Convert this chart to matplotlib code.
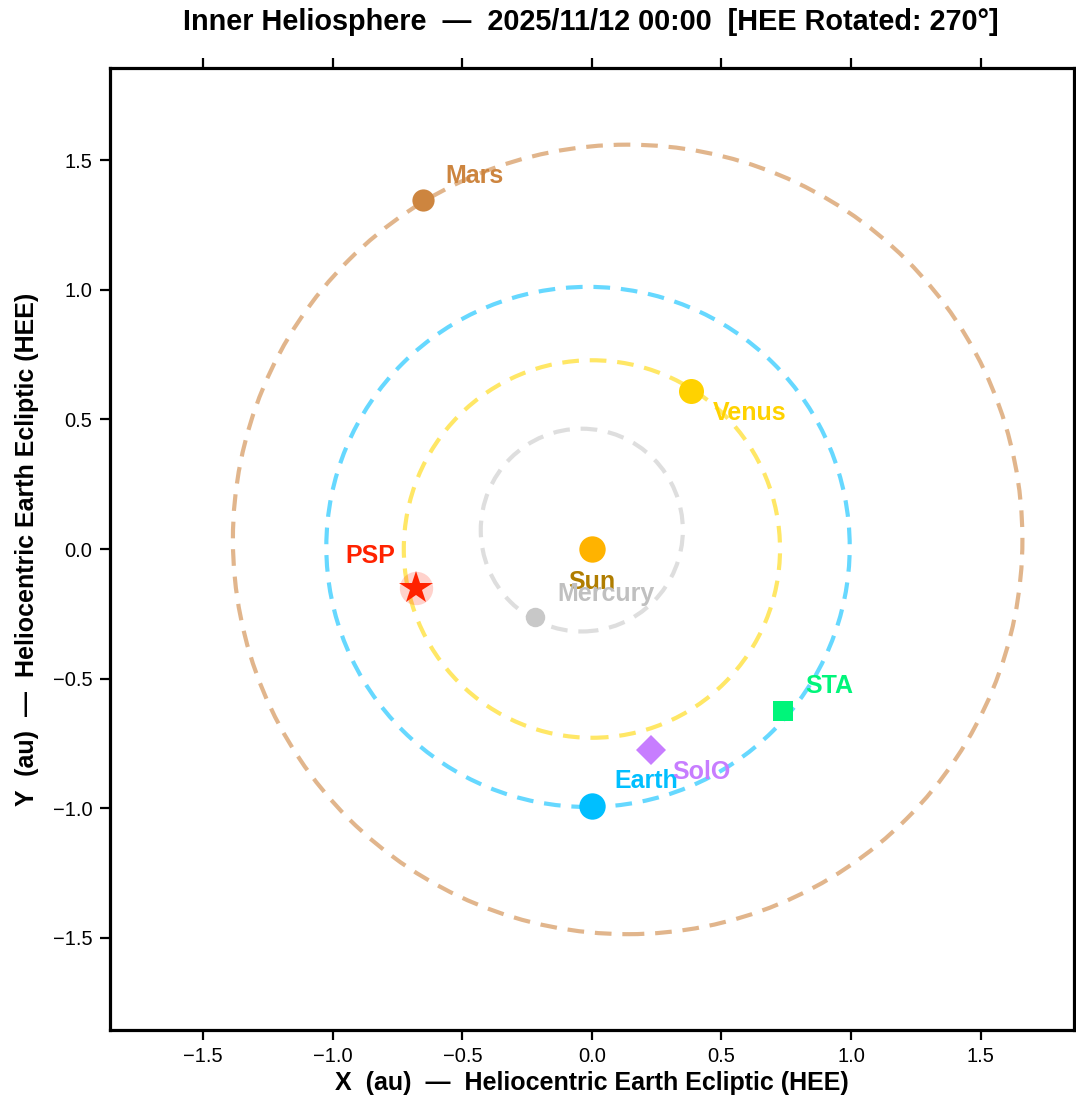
import numpy as np
import matplotlib
matplotlib.use("Agg")
import matplotlib.pyplot as plt
from matplotlib.patches import Ellipse

plt.rcParams["font.family"] = ["Liberation Sans", "DejaVu Sans"]

# orbits: center x, center y, width, height (au)
orbit_names = ["Mercury", "Venus", "Earth", "Mars"]
orbit_cx = [-0.039, 0.0, -0.015, 0.138]
orbit_cy = [0.073, 0.0, 0.008, 0.037]
orbit_w = [0.78, 1.452, 2.02, 3.047]
orbit_h = [0.782, 1.456, 2.006, 3.045]
orbit_colors = ["#c8c8c8", "#ffd700", "#00bfff", "#cd853f"]

# bodies
body_names = ["Sun", "Mercury", "Venus", "Earth", "Mars"]
body_x = [0.0, -0.220, 0.382, 0.0, -0.652]
body_y = [0.0, -0.264, 0.610, -0.991, 1.346]
body_colors = ["#ffb300", "#c8c8c8", "#ffd200", "#00bfff", "#cd853f"]
body_label_colors = ["#b07d00", "#c0c0c0", "#ffd200", "#00bfff", "#cd853f"]
body_sizes = [19, 14, 18, 19, 16]

# spacecraft
sc_names = ["PSP", "SolO", "STA"]
sc_x = [-0.679, 0.228, 0.737]
sc_y = [-0.152, -0.776, -0.626]
sc_markers = ["*", "D", "s"]
sc_colors = ["#ff2200", "#c77dff", "#00f57a"]
sc_sizes = [25, 15, 15]

ticks = [-1.5, -1.0, -0.5, 0.0, 0.5, 1.0, 1.5]

fig = plt.figure(figsize=(10.76, 11.01), dpi=100)
ax = fig.add_axes([0.1022, 0.0645, 0.8958, 0.8737])

for cx, cy, w, h, col in zip(orbit_cx, orbit_cy, orbit_w, orbit_h, orbit_colors):
    ax.add_patch(Ellipse((cx, cy), w, h, fill=False, edgecolor=col, alpha=0.6,
                         lw=3.0, linestyle=(0, (4, 2.6)), zorder=1))

for x, y, c, s in zip(body_x, body_y, body_colors, body_sizes):
    ax.plot(x, y, "o", color=c, markersize=s, markeredgewidth=0, zorder=4)

# glow behind PSP
ax.plot(sc_x[0], sc_y[0], "o", color="#ff2200", alpha=0.2, markersize=24,
        markeredgewidth=0, zorder=3)
for x, y, m, c, s in zip(sc_x, sc_y, sc_markers, sc_colors, sc_sizes):
    ax.plot(x, y, m, color=c, markersize=s, markeredgewidth=0, zorder=5)

# label offsets in points: (dx, dy), ha, va
offsets = {
    "Sun": ((0, -15), "center", "top"),
    "Mercury": ((16, 17), "left", "center"),
    "Venus": ((16, -16), "left", "center"),
    "Earth": ((16, 18), "left", "center"),
    "Mars": ((16, 17), "left", "center"),
    "PSP": ((-15, 23), "right", "center"),
    "SolO": ((15, -16), "left", "center"),
    "STA": ((16, 18), "left", "center"),
}
for name, x, y, c in zip(body_names + sc_names, body_x + sc_x, body_y + sc_y,
                         body_label_colors + sc_colors):
    (dx, dy), ha, va = offsets[name]
    ax.annotate(name, (x, y), xytext=(dx, dy), textcoords="offset points",
                ha=ha, va=va, color=c, fontsize=18, fontweight="bold", zorder=6)

ax.set_xlim(-1.86, 1.86)
ax.set_ylim(-1.855, 1.855)
ax.set_xticks(ticks)
ax.set_yticks(ticks)
ax.tick_params(axis="both", direction="out", length=7.5, width=1.6,
               labelsize=14.5, pad=5)
ax.tick_params(axis="x", top=True, labeltop=False)
ax.tick_params(axis="y", right=True, labelright=False)
for t in ax.yaxis.get_major_ticks():
    t.tick2line.set_markersize(1.5)
for sp in ax.spines.values():
    sp.set_linewidth(2.3)

ax.set_xlabel("X  (au)  —  Heliocentric Earth Ecliptic (HEE)", fontsize=18,
              fontweight="bold", labelpad=3)
ax.set_ylabel("Y  (au)  —  Heliocentric Earth Ecliptic (HEE)", fontsize=18,
              fontweight="bold", labelpad=10)
fig.suptitle("Inner Heliosphere  —  2025/11/12 00:00  [HEE Rotated: 270°]",
             x=0.549, y=0.993, va="top", fontsize=20.8, fontweight="bold")

fig.savefig("out.png", dpi=100)
